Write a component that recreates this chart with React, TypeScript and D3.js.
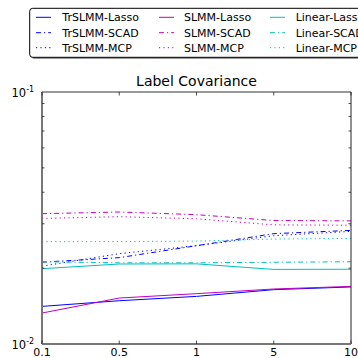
import React from "react";
import * as d3 from "d3";

const categories = ["0.1", "0.5", "1", "5", "10"];

const trLasso = [0.0141, 0.01485, 0.01545, 0.01643, 0.01684];
const trScad = [0.02112, 0.02201, 0.02455, 0.02741, 0.02824];
const trMcp = [0.02036, 0.02283, 0.02455, 0.0269, 0.02798];
const slLasso = [0.01327, 0.01522, 0.01584, 0.01653, 0.01693];
const slScad = [0.0329, 0.0334, 0.0326, 0.0309, 0.0308];
const slMcp = [0.0315, 0.032, 0.0314, 0.0297, 0.0296];
const linLasso = [0.0199, 0.02077, 0.0208, 0.01977, 0.0198];
const linScad = [0.0212, 0.021, 0.021, 0.0211, 0.0212];
const linMcp = [0.02547, 0.0255, 0.0256, 0.0261, 0.02624];

const seriesNames = [
  "TrSLMM-Lasso", "TrSLMM-SCAD", "TrSLMM-MCP",
  "SLMM-Lasso", "SLMM-SCAD", "SLMM-MCP",
  "Linear-Lasso", "Linear-SCAD", "Linear-MCP",
];
const seriesValues = [trLasso, trScad, trMcp, slLasso, slScad, slMcp, linLasso, linScad, linMcp];

const BLUE = "#0000ff";
const MAG = "#bf00bf";
const CYAN = "#00bfbf";
const colors = [BLUE, BLUE, BLUE, MAG, MAG, MAG, CYAN, CYAN, CYAN];
const DASH = ["", "5,3,1.2,3", "1.2,3.2"];

export default function App() {
  const W = 358, H = 358;
  const left = 42, right = 351, top = 92, bottom = 344;
  const x = d3.scalePoint<string>().domain(categories).range([left, right]);
  const y = d3.scaleLog().domain([0.01, 0.1]).range([bottom, top]);
  const line = d3.line<number>()
    .x((_, i) => x(categories[i]) as number)
    .y((d) => y(d));
  const minor = [0.02, 0.03, 0.04, 0.05, 0.06, 0.07, 0.08, 0.09];
  const font = "'DejaVu Sans', sans-serif";

  return (
    <svg width={W} height={H} style={{ position: "absolute", left: 0, top: 0, background: "#fff" }}
      fontFamily={font}>
      <rect x={0} y={0} width={W} height={H} fill="#fff" />
      {seriesValues.map((vals, i) => (
        <path key={i} d={line(vals) || ""} fill="none" stroke={colors[i]}
          strokeWidth={1} strokeDasharray={DASH[i % 3] || undefined} />
      ))}
      <line x1={left} x2={right} y1={top} y2={top} stroke="#333" strokeWidth={1} />
      <line x1={right} x2={right} y1={top} y2={bottom} stroke="#222" strokeWidth={1} />
      <line x1={left} x2={left} y1={top} y2={bottom} stroke="#777" strokeWidth={2} />
      <line x1={left} x2={right} y1={bottom} y2={bottom} stroke="#777" strokeWidth={2} />
      {minor.map((m) => (
        <g key={m}>
          <line x1={left} x2={left + 2.5} y1={y(m)} y2={y(m)} stroke="#222" strokeWidth={0.8} />
          <line x1={right} x2={right - 2.5} y1={y(m)} y2={y(m)} stroke="#222" strokeWidth={0.8} />
        </g>
      ))}
      {categories.map((c) => (
        <g key={c}>
          <line x1={x(c)} x2={x(c)} y1={top} y2={top + 3.5} stroke="#222" strokeWidth={0.8} />
          <line x1={x(c)} x2={x(c)} y1={bottom} y2={bottom - 3.5} stroke="#222" strokeWidth={0.8} />
          <text x={x(c)} y={356} textAnchor="middle" fontSize={11} fill="#000">{c}</text>
        </g>
      ))}
      {[0.1, 0.01].map((v, i) => (
        <text key={v} x={11.5} y={y(v) + 4.5} fontSize={11.5} fill="#000">
          10<tspan dy={-5} fontSize={8}>{i === 0 ? "-1" : "-2"}</tspan>
        </text>
      ))}
      <text x={(left + right) / 2} y={86} textAnchor="middle" fontSize={14} fill="#000">Label Covariance</text>
      <rect x={31.5} y={10} width={340} height={49} rx={3} fill="#555" opacity={0.6} />
      <rect x={29.7} y={8.3} width={340} height={49} rx={3} fill="#fff" stroke="#000" strokeWidth={1} />
      {seriesNames.map((name, i) => {
        const col = Math.floor(i / 3);
        const row = i % 3;
        const lx = [36, 159, 270][col];
        const tx = [62.3, 184, 295.7][col];
        const ly = [17.3, 32.7, 47.7][row];
        return (
          <g key={name}>
            <line x1={lx} x2={lx + 15} y1={ly} y2={ly} stroke={colors[i]} strokeWidth={1}
              strokeDasharray={DASH[row] || undefined} />
            <text x={tx} y={ly + 4} fontSize={11} fill="#000">{name}</text>
          </g>
        );
      })}
    </svg>
  );
}
